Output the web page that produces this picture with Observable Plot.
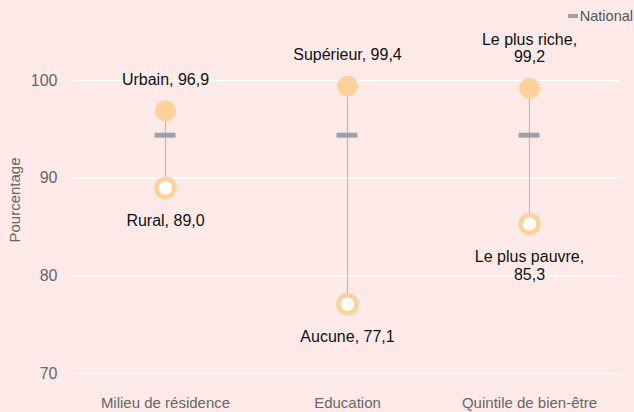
<!DOCTYPE html>
<html>
<head>
<meta charset="utf-8">
<script src="https://cdn.jsdelivr.net/npm/d3@7"></script>
<script src="https://cdn.jsdelivr.net/npm/@observablehq/plot@0.6"></script>
<style>
  html, body { margin: 0; padding: 0; background: #fdeae8; }
  #wrap { position: relative; width: 634px; height: 412px; font-family: "Liberation Sans", Arial, sans-serif; }
  #legend { position: absolute; top: 8px; right: 1px; font-size: 14.5px; color: #555; display: flex; align-items: center; gap: 2px; }
  #legend .sw { display: inline-block; width: 10px; height: 4px; background: #9ea2a6; }
  #ylabel { position: absolute; left: 14px; top: 200px; transform: translate(-50%, -50%) rotate(-90deg); font-size: 15px; color: #666; white-space: nowrap; }
</style>
</head>
<body>
<div id="wrap">
  <div id="legend"><span class="sw"></span><span>National</span></div>
  <div id="ylabel">Pourcentage</div>
</div>
<script>
const categories = ["Milieu de résidence", "Education", "Quintile de bien-être"];
const highLabels = ["Urbain", "Supérieur", "Le plus riche"];
const highValues = [96.9, 99.4, 99.2];
const lowLabels = ["Rural", "Aucune", "Le plus pauvre"];
const lowValues = [89.0, 77.1, 85.3];
const nationalValues = [94.4, 94.4, 94.4];
const yTicks = [70, 80, 90, 100];

const fmt = v => v.toFixed(1).replace(".", ",");
const rows = categories.map((c, i) => ({
  cat: c,
  high: highValues[i], low: lowValues[i], nat: nationalValues[i],
  highText: highLabels[i] + "," + (highLabels[i].length > 10 ? "\n" : " ") + fmt(highValues[i]),
  lowText: lowLabels[i] + "," + (lowLabels[i].length > 10 ? "\n" : " ") + fmt(lowValues[i])
}));

const orange = "#fdd29a";

const chart = Plot.plot({
  width: 634,
  height: 412,
  marginLeft: 73,
  marginRight: 14,
  marginTop: 80,
  marginBottom: 39,
  style: { background: "transparent", fontFamily: "'Liberation Sans', Arial, sans-serif", overflow: "visible" },
  x: { domain: categories, padding: 0 },
  y: { domain: [70, 100] },
  marks: [
    Plot.gridY(yTicks, { stroke: "#ffffff", strokeOpacity: 1, strokeWidth: 1.2 }),
    Plot.axisY(yTicks, { tickSize: 0, tickPadding: 16, fontSize: 16, color: "#666", label: null }),
    Plot.axisX({ tickSize: 0, tickPadding: 24, fontSize: 15, color: "#666", label: null }),
    Plot.ruleX(rows, { x: "cat", y1: "low", y2: "high", stroke: "#bcbcbc", strokeWidth: 1.2 }),
    Plot.tickY(rows, { x: "cat", y: "nat", stroke: "#9ea2a6", strokeWidth: 5, inset: 80.5 }),
    Plot.dot(rows, { x: "cat", y: "high", r: 10.5, fill: orange, stroke: "none" }),
    Plot.dot(rows, { x: "cat", y: "low", r: 9, fill: "#ffffff", stroke: orange, strokeWidth: 4.5 }),
    Plot.text(rows, { x: "cat", y: "high", text: "highText", lineAnchor: "bottom", dy: -26, fontSize: 16, fill: "#111", lineHeight: 1.08 }),
    Plot.text(rows, { x: "cat", y: "low", text: "lowText", lineAnchor: "top", dy: 26, fontSize: 16, fill: "#111", lineHeight: 1.08 })
  ]
});
document.getElementById("wrap").prepend(chart);
</script>
</body>
</html>
